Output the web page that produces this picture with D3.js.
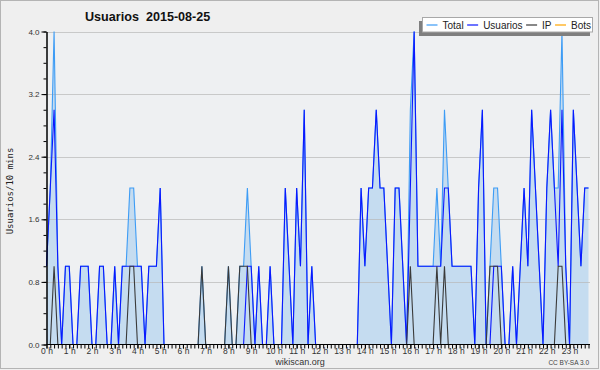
<!DOCTYPE html>
<html><head><meta charset="utf-8">
<script src="https://cdn.jsdelivr.net/npm/d3@7"></script>
<style>html,body{margin:0;padding:0;background:#efefef;} svg{display:block;}</style>
</head><body>
<svg id="c" width="600" height="370"></svg>
<script>
// 10-minute slots for 2015-08-25 (144 slots)
const hourLabels = ["0 h","1 h","2 h","3 h","4 h","5 h","6 h","7 h","8 h","9 h","10 h","11 h",
  "12 h","13 h","14 h","15 h","16 h","17 h","18 h","19 h","20 h","21 h","22 h","23 h"];
const yTickValues = [0.0, 0.8, 1.6, 2.4, 3.2, 4.0];
const seriesNames = ["Total", "Usuarios", "IP", "Bots"];

const totalValues = [
  1,2,4,1,0,1, 1,0,0,1,1,1,
  0,0,1,1,0,0, 1,0,1,1,2,2,
  1,1,0,1,1,1, 2,0,0,0,0,0,
  0,0,0,0,0,1, 0,0,0,0,0,0,
  1,0,0,1,1,2, 1,0,1,0,0,1,
  0,0,0,2,1,0, 2,1,3,0,1,0,
  0,0,0,0,0,0, 0,0,0,0,0,2,
  1,2,2,3,2,2, 1,0,2,2,1,0,
  3,4,1,1,1,1, 1,2,1,3,2,1,
  1,1,1,1,1,0, 2,3,0,1,2,2,
  1,0,0,1,0,1, 2,1,3,2,1,0,
  2,3,2,2,4,1, 0,3,2,1,2,2
];
const usuariosValues = [
  1,2,3,1,0,1, 1,0,0,1,1,1,
  0,0,1,1,0,0, 1,0,1,1,1,1,
  1,1,0,1,1,1, 2,0,0,0,0,0,
  0,0,0,0,0,0, 0,0,0,0,0,0,
  0,0,0,0,0,1, 1,0,1,0,0,1,
  0,0,0,2,1,0, 2,1,3,0,1,0,
  0,0,0,0,0,0, 0,0,0,0,0,2,
  1,2,2,3,2,2, 1,0,2,2,1,0,
  2,4,1,1,1,1, 1,1,1,2,2,1,
  1,1,1,1,1,0, 2,3,0,0,1,1,
  1,0,0,1,0,1, 2,1,3,2,1,0,
  2,3,2,1,3,1, 0,3,2,1,2,2
];
const ipValues = [
  0,0,1,0,0,0, 0,0,0,0,0,0,
  0,0,0,0,0,0, 0,0,0,0,1,1,
  0,0,0,0,0,0, 0,0,0,0,0,0,
  0,0,0,0,0,1, 0,0,0,0,0,0,
  1,0,0,1,1,1, 0,0,0,0,0,0,
  0,0,0,0,0,0, 0,0,0,0,0,0,
  0,0,0,0,0,0, 0,0,0,0,0,0,
  0,0,0,0,0,0, 0,0,0,0,0,0,
  1,0,0,0,0,0, 0,1,0,1,0,0,
  0,0,0,0,0,0, 0,0,0,1,1,1,
  0,0,0,0,0,0, 0,0,0,0,0,0,
  0,0,0,1,1,0, 0,0,0,0,0,0
];
const botsValues = [
  0,0,0,0,0,0, 0,0,0,0,0,0,
  0,0,0,0,0,0, 0,0,0,0,0,0,
  0,0,0,0,0,0, 0,0,0,0,0,0,
  0,0,0,0,0,0, 0,0,0,0,0,0,
  0,0,0,0,0,0, 0,0,0,0,0,0,
  0,0,0,0,0,0, 0,0,0,0,0,0,
  0,0,0,0,0,0, 0,0,0,0,0,0,
  0,0,0,0,0,0, 0,0,0,0,0,0,
  0,0,0,0,0,0, 0,0,0,0,0,0,
  0,0,0,0,0,0, 0,0,0,0,0,0,
  0,0,0,0,0,0, 0,0,0,0,0,0,
  0,0,0,0,0,0, 0,0,0,0,0,0
];

const colors = {Total:"#3d9cf5", Usuarios:"#0a18ff", IP:"#3a3a3a", Bots:"#ffa500"};
const svg = d3.select("#c");
const FONT = "'Liberation Sans', Arial, sans-serif";

// frame
svg.append("rect").attr("x",0.5).attr("y",0.5).attr("width",598).attr("height",368)
  .attr("fill","#efefef").attr("stroke","#b4b4b4");

const x = d3.scaleLinear().domain([0, totalValues.length - 1]).range([46.5, 588.5]);
const y = d3.scaleLinear().domain([0, 4]).range([344.5, 31.5]);

// plot background
svg.append("rect").attr("x",46.5).attr("y",31.5).attr("width",544).attr("height",313)
  .attr("fill","#eef0f2");

// area
const area = d3.area().x((d,i)=>x(i)).y0(y(0)).y1(d=>y(d));
svg.append("path").datum(totalValues).attr("d",area).attr("fill","#c5dcf0");

// grid
svg.append("g").selectAll("line").data(yTickValues.filter(v=>v>0)).join("line")
  .attr("x1",46.5).attr("x2",590).attr("y1",d=>Math.round(y(d))+0.5).attr("y2",d=>Math.round(y(d))+0.5)
  .attr("stroke","#b8b8b8").attr("stroke-opacity",0.7).attr("stroke-width",1);

// lines
const line = d3.line().x((d,i)=>x(i)).y(d=>y(d));
const seriesData = {Total: totalValues, Usuarios: usuariosValues, IP: ipValues, Bots: botsValues};
["Total","Usuarios","IP","Bots"].forEach(name=>{
  svg.append("path").datum(seriesData[name]).attr("d",line)
    .attr("fill","none").attr("stroke",colors[name]).attr("stroke-width",1.1)
    .attr("stroke-linejoin","miter");
});

// y axis
const yMinor = d3.axisLeft(y).tickValues(d3.range(0, 4.001, 0.2)).tickSize(3).tickFormat("").tickSizeOuter(0);
const gyMinor = svg.append("g").attr("transform","translate(46.5,0)").call(yMinor);
const yMajor = d3.axisLeft(y).tickValues(yTickValues).tickSize(5).tickPadding(2)
  .tickFormat(d3.format(".1f")).tickSizeOuter(0);
const gy = svg.append("g").attr("transform","translate(46.5,0)").call(yMajor);
[gy, gyMinor].forEach(g=>{
  g.selectAll("line").attr("stroke","#000");
  g.select(".domain").attr("stroke","#000");
  g.selectAll("text").attr("font-family",FONT).attr("font-size",8).attr("fill","#333");
});

// x axis
const xMinor = d3.axisBottom(x).tickValues(d3.range(0, totalValues.length)).tickSize(4).tickFormat("").tickSizeOuter(0);
const gxMinor = svg.append("g").attr("transform","translate(0,344.5)").call(xMinor);
const xMajor = d3.axisBottom(x).tickValues(d3.range(0, totalValues.length, 6)).tickSize(4).tickPadding(-1)
  .tickFormat((d,i)=>hourLabels[i]).tickSizeOuter(0);
const gx = svg.append("g").attr("transform","translate(0,344.5)").call(xMajor);
gx.select(".domain").remove();
gxMinor.select(".domain").attr("stroke","#000").attr("d","M46.5,0H590");
[gx, gxMinor].forEach(g=>{
  g.selectAll("line").attr("stroke","#000");
  g.selectAll("text").attr("font-family",FONT).attr("font-size",8.5).attr("fill","#333");
});

// title
svg.append("text").attr("x",85).attr("y",21).attr("font-family",FONT).attr("font-weight","bold")
  .attr("font-size",12.6).attr("fill","#111").style("white-space","pre").text("Usuarios  2015-08-25");

// y label
svg.append("text").attr("transform","translate(12.5,191) rotate(-90)").attr("text-anchor","middle")
  .attr("font-family","'DejaVu Sans Mono', monospace").attr("font-size",9).attr("fill","#222")
  .text("Usuarios/10 mins");

// footer
svg.append("text").attr("x",300).attr("y",364.5).attr("text-anchor","middle").attr("font-family",FONT)
  .attr("font-size",9).attr("fill","#333").text("wikiscan.org");
svg.append("text").attr("x",589).attr("y",364.5).attr("text-anchor","end").attr("font-family",FONT)
  .attr("font-size",6.5).attr("fill","#444").text("CC BY-SA 3.0");

// legend
const lg = svg.append("g");
lg.append("rect").attr("x",419).attr("y",21).attr("width",171).attr("height",15).attr("fill","#7f7f7f");
lg.append("rect").attr("x",422.5).attr("y",17.5).attr("width",170).attr("height",14.5)
  .attr("fill","#ffffff").attr("stroke","#a8a8a8");
let cx = 426.5;
seriesNames.forEach(name=>{
  lg.append("line").attr("x1",cx).attr("x2",cx+11).attr("y1",25).attr("y2",25)
    .attr("stroke",colors[name]).attr("stroke-width",1.2);
  const t = lg.append("text").attr("x",cx+16).attr("y",28.5).attr("font-family",FONT)
    .attr("font-size",10).attr("fill","#222").text(name);
  cx += 16 + t.node().getComputedTextLength() + 3.5;
});
</script>
</body></html>
